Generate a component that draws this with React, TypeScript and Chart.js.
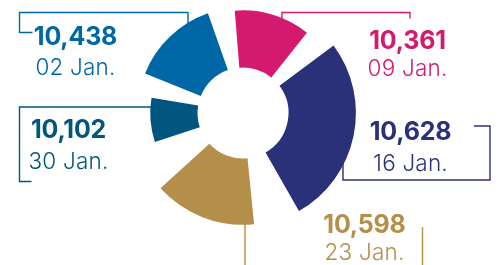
import React, { useEffect, useRef } from 'react';
import { Chart, registerables } from 'chart.js';

Chart.register(...registerables);

// ---- data ----
const DATES = ['02 Jan.', '09 Jan.', '16 Jan.', '23 Jan.', '30 Jan.'];
const VALUES = [10438, 10361, 10628, 10598, 10102];

// ---- style / layout constants ----
const COLORS = ['#0067A6', '#D31A6E', '#2A3178', '#B48F49', '#00567F'];
const SWEEP_DEG = [63.4, 57.9, 121, 77.5, 40.2]; // slice + following gap
const GAP_DEG = [14.8, 14.8, 24, 24.2, 12.5];
const START_DEG = 292;
const HOLE_RADIUS = 45.5;
const R_MIN = 7680;
const R_MAX = 10630;

const W = 499;
const H = 265;

// label placement: centre x, top of number caps, top of date caps
const LABEL_POS = [
  { cx: 75.5, numTop: 27.5, dateTop: 59.5 },
  { cx: 407.5, numTop: 31.7, dateTop: 60.5 },
  { cx: 410.5, numTop: 122, dateTop: 155 },
  { cx: 364.5, numTop: 215, dateTop: 244 },
  { cx: 68.5, numTop: 120, dateTop: 153.5 },
];

// bracket lines drawn beneath the slices
const BRACKETS: [number, number][][] = [
  [[188, 26], [188, 12.5], [19.5, 12.5], [19.5, 32.5], [32.5, 32.5]],
  [[282, 26], [282, 12.5], [410, 12.5], [410, 18.5]],
  [[474, 126], [490, 126], [490, 180], [343, 180], [343, 160]],
  [[245, 205], [245, 270]],
  [[155, 107], [19.5, 107], [19.5, 181.5], [31.5, 181.5]],
];
const BRACKET_EXTRA: [number, number][][] = [[], [], [], [[422.5, 227], [422.5, 270]], []];

const FONT = 'Inter, "Open Sans", "DejaVu Sans", sans-serif';
const NUM_SIZE = 25;
const DATE_SIZE = 22.5;
const CAP_OFFSET = 0.137; // cap top offset inside a line-height:1 box (em)

const sliceShape = {
  id: 'sliceShape',
  afterDatasetsUpdate(chart: any) {
    const meta = chart.getDatasetMeta(0);
    meta.data.forEach((arc: any, i: number) => {
      arc.innerRadius = HOLE_RADIUS;
      arc.endAngle -= (GAP_DEG[i] * Math.PI) / 180;
    });
  },
};

const brackets = {
  id: 'brackets',
  beforeDatasetsDraw(chart: any) {
    const ctx = chart.ctx as CanvasRenderingContext2D;
    ctx.save();
    ctx.lineWidth = 1.4;
    const drawPoly = (pts: [number, number][], color: string) => {
      if (!pts.length) return;
      ctx.strokeStyle = color;
      ctx.beginPath();
      pts.forEach(([x, y], k) => (k ? ctx.lineTo(x, y) : ctx.moveTo(x, y)));
      ctx.stroke();
    };
    BRACKETS.forEach((pts, i) => drawPoly(pts, COLORS[i]));
    BRACKET_EXTRA.forEach((pts, i) => drawPoly(pts, COLORS[i]));
    ctx.restore();
  },
};

export default function App() {
  const ref = useRef<HTMLCanvasElement | null>(null);

  useEffect(() => {
    if (!ref.current) return;
    const chart = new Chart(ref.current, {
      type: 'polarArea',
      data: {
        labels: DATES,
        datasets: [
          {
            data: VALUES,
            backgroundColor: COLORS,
            borderWidth: 0,
            angle: SWEEP_DEG,
            clip: false,
          } as any,
        ],
      },
      options: {
        responsive: false,
        animation: false,
        events: [],
        layout: { padding: { left: 130, right: 143, top: 0, bottom: 39 } },
        plugins: { legend: { display: false }, tooltip: { enabled: false } },
        scales: {
          r: {
            display: false,
            min: R_MIN,
            max: R_MAX,
            beginAtZero: false,
            startAngle: START_DEG,
          } as any,
        },
      },
      plugins: [sliceShape, brackets],
    });
    return () => chart.destroy();
  }, []);

  return (
    <div style={{ position: 'absolute', left: 0, top: 0, width: W, height: H, background: '#fff', overflow: 'hidden' }}>
      <canvas ref={ref} width={W} height={H} style={{ position: 'absolute', left: 0, top: 0, display: 'block' }} />
      {VALUES.map((v, i) => {
        const p = LABEL_POS[i];
        const common: React.CSSProperties = {
          position: 'absolute',
          left: p.cx,
          transform: 'translateX(-50%)',
          whiteSpace: 'nowrap',
          lineHeight: 1,
          fontFamily: FONT,
          color: COLORS[i],
        };
        return (
          <React.Fragment key={i}>
            <div style={{ ...common, top: p.numTop - CAP_OFFSET * NUM_SIZE, fontSize: NUM_SIZE, fontWeight: 700, letterSpacing: -0.2 }}>
              {v.toLocaleString('en-US')}
            </div>
            <div style={{ ...common, top: p.dateTop - CAP_OFFSET * DATE_SIZE, fontSize: DATE_SIZE, fontWeight: 300, letterSpacing: 0.2 }}>
              {DATES[i]}
            </div>
          </React.Fragment>
        );
      })}
    </div>
  );
}
